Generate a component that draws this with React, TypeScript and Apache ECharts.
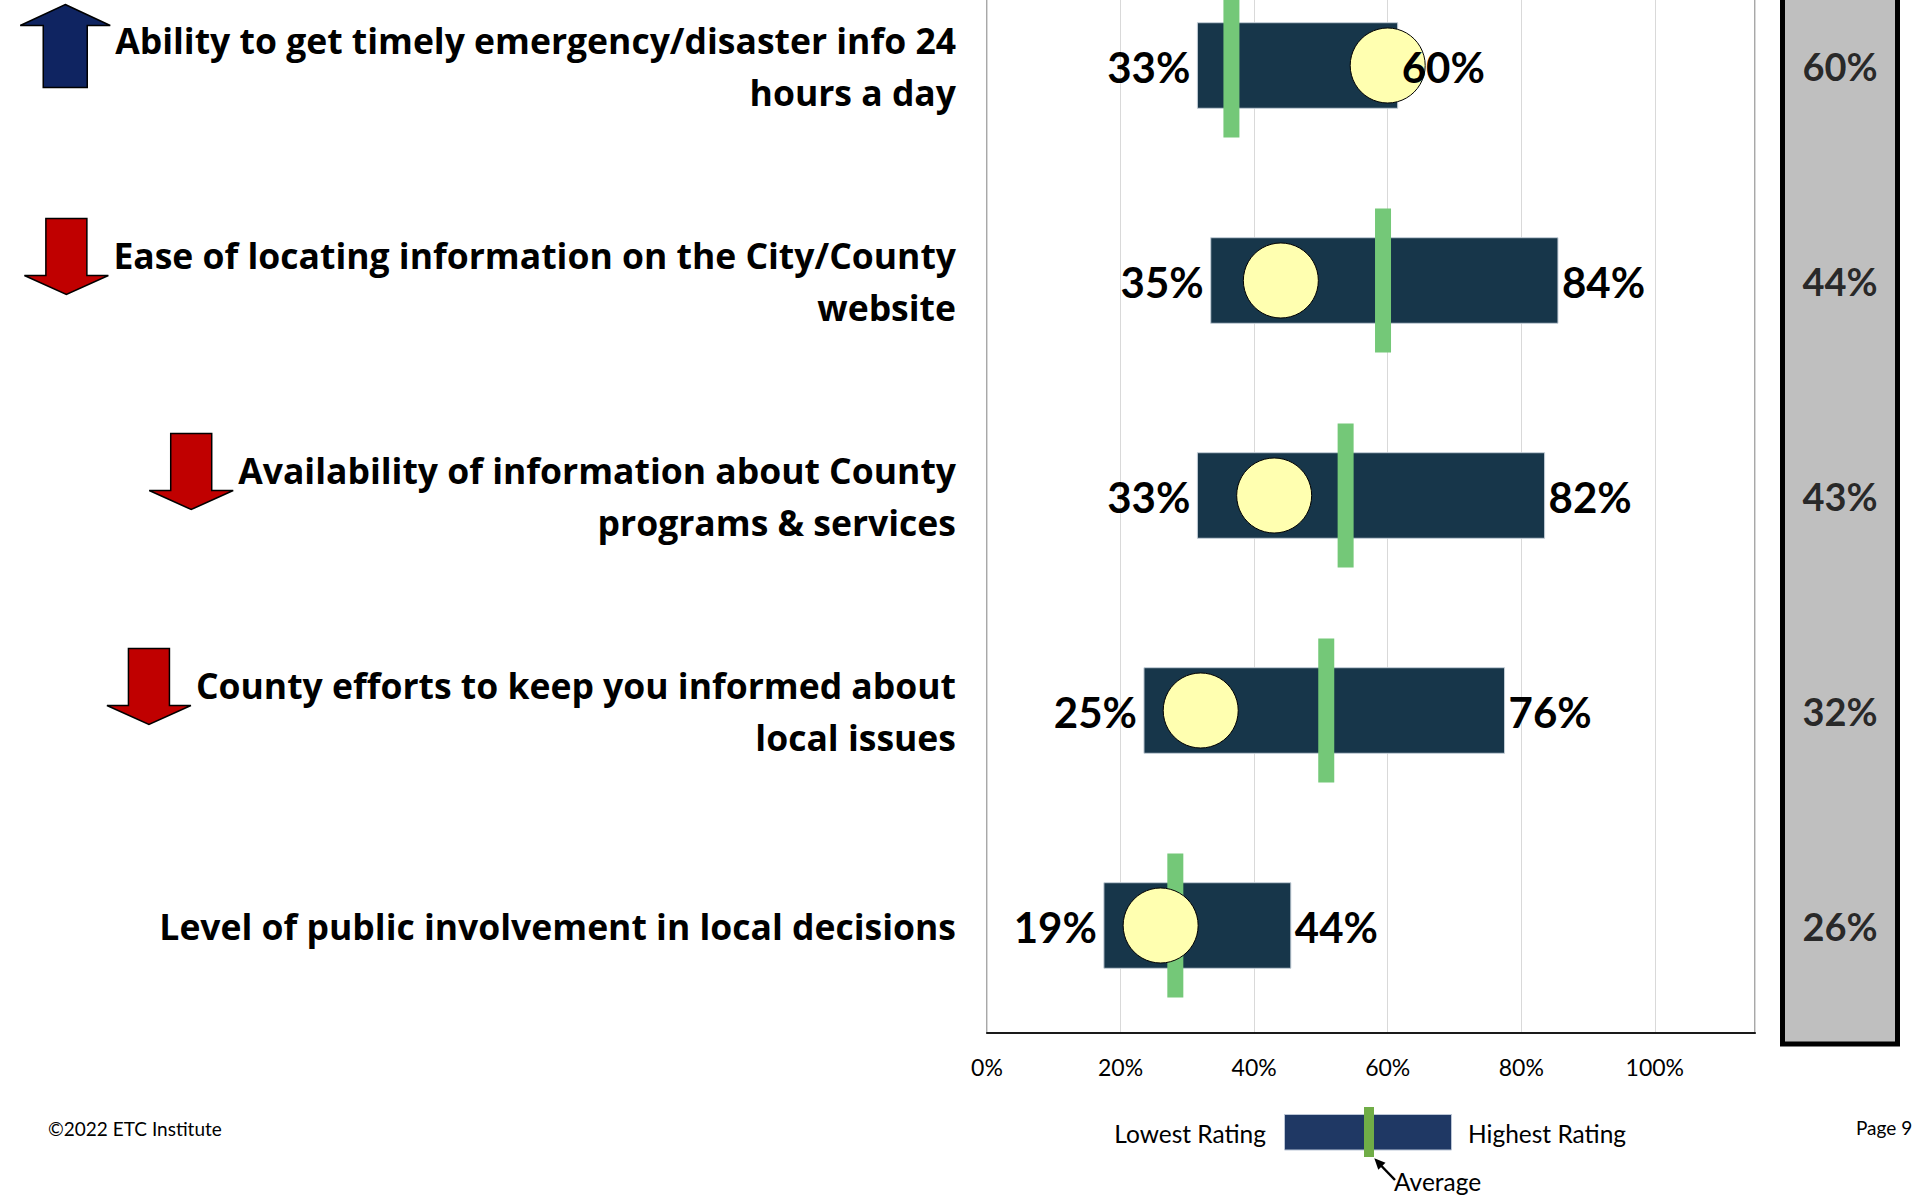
import React, { useEffect, useRef } from "react";
import * as echarts from "echarts";

// ---- data ----
const categories: string[] = [
  "Ability to get timely emergency/disaster info 24\nhours a day",
  "Ease of locating information on the City/County\nwebsite",
  "Availability of information about County\nprograms & services",
  "County efforts to keep you informed about\nlocal issues",
  "Level of public involvement in local decisions",
];
const trend: string[] = ["up", "down", "down", "down", "none"];
const lowest: number[] = [33, 35, 33, 25, 19];
const highest: number[] = [60, 84, 82, 76, 44];
const average: number[] = [36.6, 59.3, 53.7, 50.8, 28.2];
const county: number[] = [60, 44, 43, 32, 26];

const FONT = 'Lato, "Open Sans", sans-serif';
const CAT_FONT = '"Open Sans", Lato, sans-serif';
const CAT_SIZE = 35.5;
const VAL_SIZE = 42;
const BAR_PAD = 10;
const OFF = 42; // chart canvas starts 42px above the page top (plot top is cropped)

function downArrow(xr: number, ytop: number) {
  const w = 84, h = 76, sh = 41, head = 19;
  const xl = xr - w, cx = xr - w / 2;
  return [
    [cx - sh / 2, ytop], [cx + sh / 2, ytop], [cx + sh / 2, ytop + h - head],
    [xr, ytop + h - head], [cx, ytop + h], [xl, ytop + h - head], [cx - sh / 2, ytop + h - head],
  ];
}
function upArrow(xr: number, ytop: number) {
  const w = 90, h = 83, sh = 44, head = 21;
  const xl = xr - w, cx = xr - w / 2;
  return [
    [cx, ytop], [xr, ytop + head], [cx + sh / 2, ytop + head], [cx + sh / 2, ytop + h],
    [cx - sh / 2, ytop + h], [cx - sh / 2, ytop + head], [xl, ytop + head],
  ];
}

export default function App() {
  const ref = useRef<HTMLDivElement>(null);
  useEffect(() => {
    const chart = echarts.init(ref.current!, null, { renderer: "svg" });
    const rangeData = categories.map((_, i) => [i, lowest[i], highest[i]]);
    const avgData = average.map((v, i) => [v, i]);
    const countyData = county.map((v, i) => [v, i]);
    const boxData = county.map((v, i) => [0.5, i, v]);

    const option: any = {
      animation: false,
      grid: [
        { left: 987, width: 768, top: 0, height: 1075, show: true, borderColor: "#8c8c8c", borderWidth: 1.5 },
        { left: 1785, width: 110, top: 0, height: 1075 },
      ],
      xAxis: [
        {
          type: "value", gridIndex: 0, min: 0, max: 115, interval: 20,
          axisLine: { show: true, lineStyle: { color: "#1a1a1a", width: 2 } },
          axisTick: { show: false },
          splitLine: { show: true, lineStyle: { color: "#d9d9d9", width: 1 } },
          axisLabel: {
            margin: 22, fontSize: 23, fontFamily: FONT, color: "#000",
            formatter: (v: number) => (v % 20 === 0 && v <= 100 ? v + "%" : ""),
          },
        },
        { type: "value", gridIndex: 1, min: 0, max: 1, show: false },
      ],
      yAxis: [
        {
          type: "category", gridIndex: 0, data: categories, inverse: true,
          axisLine: { show: false }, axisTick: { show: false }, splitLine: { show: false },
          axisLabel: {
            margin: 31, fontSize: CAT_SIZE, fontWeight: "bold", fontFamily: CAT_FONT, color: "#000",
            lineHeight: 52, align: "right",
          },
        },
        { type: "category", gridIndex: 1, data: categories, inverse: true, show: false },
      ],
      series: [
        {
          type: "custom", name: "range", xAxisIndex: 0, yAxisIndex: 0, z: 2,
          data: rangeData, encode: { x: [1, 2], y: 0 },
          renderItem: (params: any, api: any) => {
            const c = api.value(0), lo = api.value(1), hi = api.value(2);
            const p0 = api.coord([lo, c]);
            const p1 = api.coord([hi, c]);
            const band = api.size([0, 1])[1];
            const h = band * 0.398;
            return {
              type: "rect",
              shape: { x: p0[0] - BAR_PAD, y: p0[1] - h / 2, width: p1[0] - p0[0] + 2 * BAR_PAD, height: h },
              style: { fill: "#17364a", stroke: "#c5cfd8", lineWidth: 1 },
            };
          },
        },
        {
          type: "custom", name: "average", xAxisIndex: 0, yAxisIndex: 0, z: 3,
          data: avgData, encode: { x: 0, y: 1 },
          renderItem: (params: any, api: any) => {
            const p = api.coord([api.value(0), api.value(1)]);
            const band = api.size([0, 1])[1];
            const h = band * 0.67;
            return {
              type: "rect",
              shape: { x: p[0] - 8, y: p[1] - h / 2, width: 16, height: h },
              style: { fill: "#74c878" },
            };
          },
        },
        {
          type: "scatter", name: "county", xAxisIndex: 0, yAxisIndex: 0, z: 4,
          data: countyData, symbol: "circle", symbolSize: 75,
          itemStyle: { color: "#ffffb0", borderColor: "#000", borderWidth: 1, opacity: 1 },
        },
        {
          type: "custom", name: "labels", xAxisIndex: 0, yAxisIndex: 0, z: 6,
          data: rangeData, encode: { x: [1, 2], y: 0 },
          renderItem: (params: any, api: any) => {
            const c = api.value(0), lo = api.value(1), hi = api.value(2);
            const p0 = api.coord([lo, c]);
            const p1 = api.coord([hi, c]);
            const st = { fontSize: VAL_SIZE, fontWeight: "bold", fontFamily: FONT, fill: "#000", verticalAlign: "middle" };
            return {
              type: "group",
              children: [
                { type: "text", x: p0[0] - 17, y: p0[1] + 1, style: { ...st, text: lo + "%", align: "right" } },
                { type: "text", x: p1[0] + 14, y: p1[1] + 1, style: { ...st, text: hi + "%", align: "left" } },
              ],
            };
          },
        },
        {
          type: "scatter", name: "countyBox", xAxisIndex: 1, yAxisIndex: 1, z: 6,
          data: boxData, symbolSize: 1, itemStyle: { color: "rgba(0,0,0,0)" },
          label: {
            show: true, position: "inside", fontSize: 38, fontWeight: "bold", fontFamily: FONT, color: "#000",
            formatter: (p: any) => p.value[2] + "%",
          },
        },
      ],
    };
    chart.setOption(option);

    // arrows placed next to the first line of each category label
    const ctx = document.createElement("canvas").getContext("2d")!;
    ctx.font = `bold ${CAT_SIZE}px ${CAT_FONT}`;
    const labelRight = 987 - 31;
    const g: any[] = [];
    categories.forEach((cat, i) => {
      if (trend[i] === "none") return;
      const line1 = cat.split("\n")[0];
      const w = ctx.measureText(line1).width;
      const xr = labelRight - w - 5;
      const cy = (chart.convertToPixel({ xAxisIndex: 0, yAxisIndex: 0 }, [0, i]) as number[])[1] - OFF;
      if (trend[i] === "up") {
        g.push({ type: "polygon", z: 10, shape: { points: upArrow(xr, cy - 61) }, style: { fill: "#0f2461", stroke: "#000", lineWidth: 1.5 } });
      } else {
        g.push({ type: "polygon", z: 10, shape: { points: downArrow(xr, cy - 62) }, style: { fill: "#c00000", stroke: "#000", lineWidth: 1.5 } });
      }
    });
    // grey column
    g.push({ type: "rect", z: 1, shape: { x: 1782.5, y: -10, width: 115, height: 1054 }, style: { fill: "#bfbfbf", stroke: "#000", lineWidth: 5 } });
    // legend key
    const lg = { fontSize: 24.5, fontFamily: FONT, fill: "#000", verticalAlign: "middle" };
    g.push({ type: "text", z: 10, x: 1266, y: 1133, style: { ...lg, text: "Lowest Rating", align: "right" } });
    g.push({ type: "rect", z: 10, shape: { x: 1284.5, y: 1114.5, width: 167, height: 35.5 }, style: { fill: "#1f3864", stroke: "#bcc6d6", lineWidth: 1 } });
    g.push({ type: "rect", z: 11, shape: { x: 1364, y: 1107, width: 10, height: 50 }, style: { fill: "#70ad47" } });
    g.push({ type: "text", z: 10, x: 1468, y: 1133, style: { ...lg, text: "Highest Rating", align: "left" } });
    g.push({ type: "line", z: 10, shape: { x1: 1395, y1: 1180, x2: 1381, y2: 1165.5 }, style: { stroke: "#000", lineWidth: 2.5 } });
    g.push({ type: "polygon", z: 10, shape: { points: [[1374.3, 1158.3], [1385.5, 1162.8], [1378.3, 1169.7]] }, style: { fill: "#000" } });
    g.push({ type: "text", z: 10, x: 1394, y: 1181, style: { ...lg, text: "Average", align: "left" } });
    // footer
    g.push({ type: "text", z: 10, x: 48, y: 1128, style: { fontSize: 19, fontFamily: FONT, fill: "#000", text: "©2022 ETC Institute", align: "left", verticalAlign: "middle" } });
    g.push({ type: "text", z: 10, x: 1856, y: 1127, style: { fontSize: 19, fontFamily: FONT, fill: "#000", text: "Page 9", align: "left", verticalAlign: "middle" } });

    chart.setOption({ graphic: [{ type: "group", x: 0, y: OFF, children: g }] });
    return () => chart.dispose();
  }, []);
  return (
    <div
      ref={ref}
      style={{ position: "absolute", left: 0, top: -OFF, width: 1914, height: 1195 + OFF, background: "#fff" }}
    />
  );
}
